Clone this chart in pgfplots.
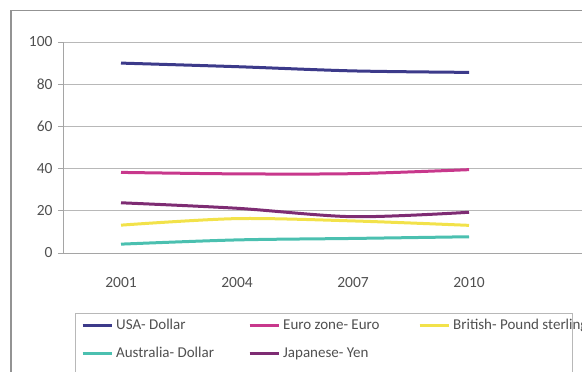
\documentclass[border=0pt]{standalone}
\usepackage{pgfplots}
\pgfplotsset{compat=1.18}
\usepackage{fontspec}
\setmainfont{Carlito}
\definecolor{cusa}{HTML}{3C3A8A}
\definecolor{ceuro}{HTML}{C8388C}
\definecolor{cbrit}{HTML}{F2E24A}
\definecolor{caus}{HTML}{4BC0B0}
\definecolor{cjap}{HTML}{7E2C73}
\definecolor{ctext}{HTML}{505050}
\definecolor{cgrid}{HTML}{B8B8B8}
\begin{document}
\begin{tikzpicture}[x=1pt,y=1pt]
\useasboundingbox (0,0) rectangle (582,372);
\draw[cgrid!80!black, line width=1.2pt] (11,-10) rectangle (700,361.5);
\draw[cgrid, line width=0.8pt, fill=white] (75,-10) rectangle (572,59);
\begin{axis}[
  at={(63pt,119pt)}, anchor=south west,
  scale only axis, width=519pt, height=211pt,
  xmin=-0.5, xmax=3.974, ymin=0, ymax=100,
  axis lines=left, axis line style={-, cgrid!90!black, line width=0.8pt},
  ytick={0,20,...,100},
  ymajorgrids, grid style={cgrid, line width=0.8pt},
  xtick={0,1,2,3},
  xticklabels={2001,2004,2007,2010},
  major x tick style={draw=none},
  extra x ticks={0.5,1.5,2.5},
  extra x tick labels={},
  extra x tick style={major tick length=5pt, tick style={cgrid!90!black, line width=0.8pt}, grid=none, tick align=outside},
  major tick length=5pt, tick align=outside,
  ytick style={cgrid!90!black, line width=0.8pt},
  tick label style={font=\fontsize{15.5}{18}\selectfont, text=ctext},
  xticklabel style={yshift=-16pt},
  yticklabel style={xshift=-2pt},
  /pgf/number format/assume math mode=true,
  legend columns=3,
  legend style={at={(75pt-63pt,0)}, anchor=north west, draw=none, fill=none,
    at={(0.0231,-0.284)},
    inner xsep=6pt, inner ysep=5pt,
    nodes={inner sep=0pt, text height=11pt, text depth=4pt, font=\fontsize{15}{18}\selectfont, text=ctext},
    /tikz/row sep=13pt,
    /tikz/every odd column/.append style={column sep=3pt}},
  legend cell align=left,
  legend image code/.code={\draw[#1, line width=3pt] (0pt,0pt) -- (29pt,0pt);},
  every axis plot/.append style={line width=3pt, smooth, tension=0.5},
]
\addplot[cusa] coordinates {(0,90) (1,88.3) (2,86.3) (3,85.6)};
\addlegendentry{\makebox[132pt][l]{USA- Dollar}}
\addplot[ceuro] coordinates {(0,38.2) (1,37.5) (2,37.6) (3,39.5)};
\addlegendentry{\makebox[135pt][l]{Euro zone- Euro}}
\addplot[cbrit] coordinates {(0,13.2) (1,16.3) (2,15.2) (3,13.1)};
\addlegendentry{British- Pound sterling}
\addplot[caus] coordinates {(0,4.2) (1,6.2) (2,6.9) (3,7.7)};
\addlegendentry{\makebox[132pt][l]{Australia- Dollar}}
\addplot[cjap] coordinates {(0,23.8) (1,21.2) (2,17.2) (3,19.3)};
\addlegendentry{\makebox[135pt][l]{Japanese- Yen}}
\end{axis}
\end{tikzpicture}
\end{document}
